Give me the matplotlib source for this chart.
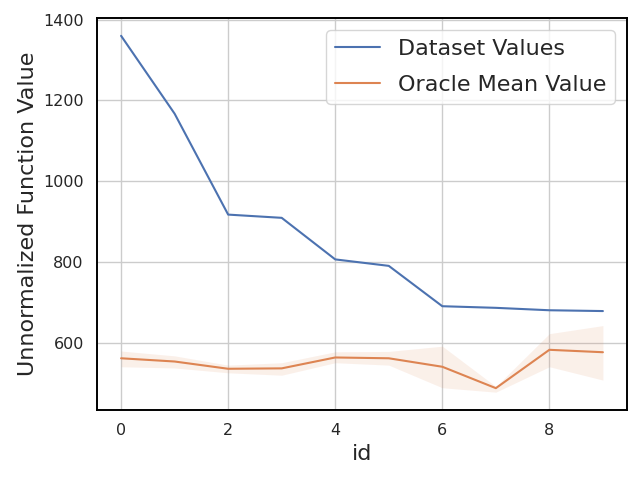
import matplotlib
matplotlib.use("Agg")
import matplotlib.pyplot as plt
import seaborn as sns
import numpy as np

sns.set_theme(style="white")

ids = list(range(10))
dataset_values = [1360, 1167, 917, 909, 806, 790, 690, 686, 680, 678]
oracle_mean = [561, 553, 535, 536, 563, 561, 540, 487, 582, 576]
oracle_low = [540, 537, 525, 519, 550, 544, 488, 477, 540, 507]
oracle_high = [579, 567, 544, 550, 577, 578, 591, 491, 622, 642]

fig, ax = plt.subplots(figsize=(6.4, 4.8), dpi=100)
pal = sns.color_palette("deep")
ax.plot(ids, dataset_values, color=pal[0], label="Dataset Values", lw=1.5)
ax.plot(ids, oracle_mean, color=pal[1], label="Oracle Mean Value", lw=1.5)
ax.fill_between(ids, oracle_low, oracle_high, color=pal[1], alpha=0.12, lw=0)

ax.grid(True, color="#cccccc", lw=1)
for s in ax.spines.values():
    s.set_color("black")
    s.set_linewidth(1.4)
ax.tick_params(labelsize=11.5)
ax.set_xlabel("id", fontsize=16)
ax.set_ylabel("Unnormalized Function Value", fontsize=16)
ax.set_xticks([0, 2, 4, 6, 8])
ax.legend(fontsize=16, loc="upper right", labelspacing=0.7, borderaxespad=0.55)
fig.subplots_adjust(left=97/640, right=627/640, top=1-18/480, bottom=1-410/480)
fig.savefig("out.png")
